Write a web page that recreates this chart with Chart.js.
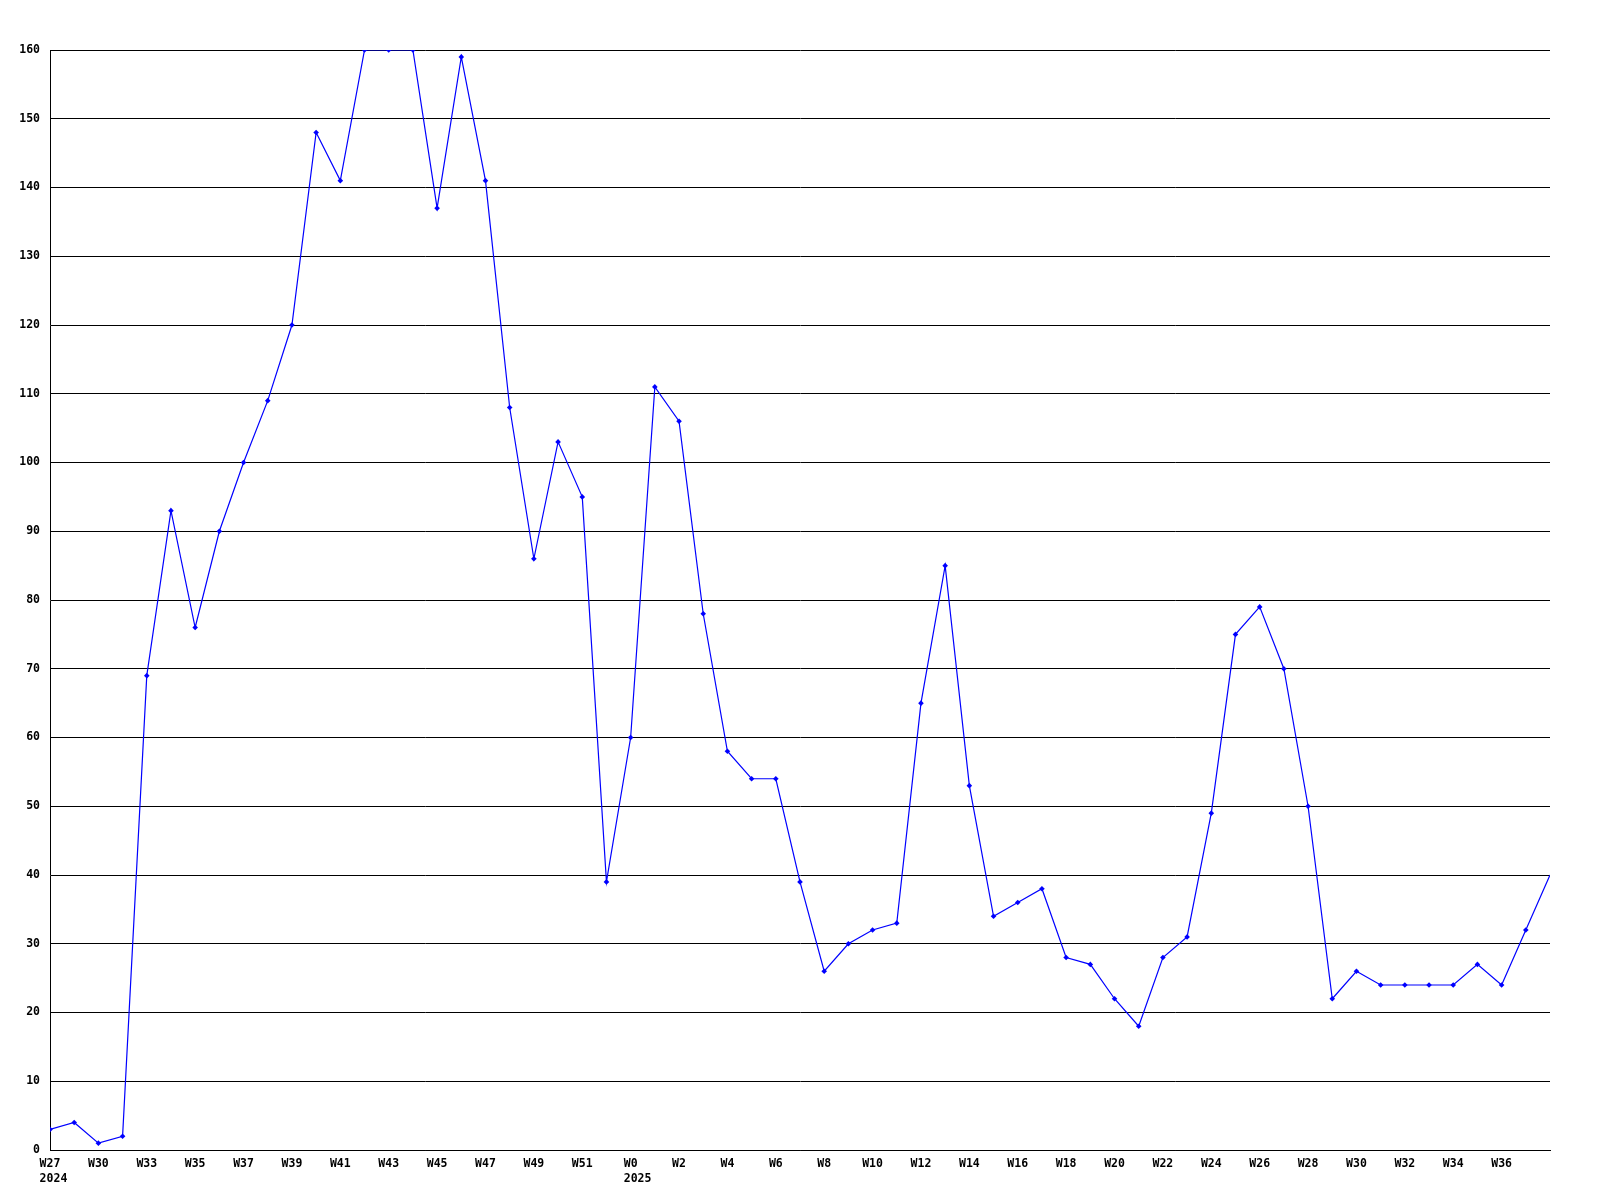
<!DOCTYPE html>
<html>
<head>
<meta charset="utf-8">
<script src="https://cdn.jsdelivr.net/npm/chart.js@4/dist/chart.umd.min.js"></script>
<style>
  html, body { margin: 0; padding: 0; background: #ffffff; }
  #wrap { width: 1600px; height: 1200px; }
</style>
</head>
<body>
<div id="wrap"><canvas id="weekly"></canvas></div>
<script>
// week labels (every other point labelled); year lines padded so they line up with the week text
const weekLabels = [
  ['W27', '  2024 '], '', 'W30', '', 'W33', '', 'W35', '', 'W37', '', 'W39', '', 'W41', '', 'W43', '',
  'W45', '', 'W47', '', 'W49', '', 'W51', '', ['W0', '  2025'], '', 'W2', '', 'W4', '', 'W6', '',
  'W8', '', 'W10', '', 'W12', '', 'W14', '', 'W16', '', 'W18', '', 'W20', '', 'W22', '',
  'W24', '', 'W26', '', 'W28', '', 'W30', '', 'W32', '', 'W34', '', 'W36', '', ''
];

const counts = [
  3, 4, 1, 2, 69, 93, 76, 90, 100, 109, 120, 148, 141, 160, 160, 160,
  137, 159, 141, 108, 86, 103, 95, 39, 60, 111, 106, 78, 58, 54, 54, 39,
  26, 30, 32, 33, 65, 85, 53, 34, 36, 38, 28, 27, 22, 18, 28, 31,
  49, 75, 79, 70, 50, 22, 26, 24, 24, 24, 24, 27, 24, 32, 40
];

const yMin = 0, yMax = 160, yStep = 10;

const tickFont = { family: 'DejaVu Sans Mono', size: 11.5, weight: 'bold', lineHeight: 1.3 };

const ctx = document.getElementById('weekly').getContext('2d');
new Chart(ctx, {
    type: 'line',
    data: {
        labels: weekLabels,
        datasets: [{
            data: counts,
            borderColor: '#0000ff',
            backgroundColor: '#0000ff',
            borderWidth: 1.2,
            pointStyle: 'rectRot',
            pointRadius: counts.map((v, i) => i === counts.length - 1 ? 0 : 2.8),
            pointBorderWidth: 0,
            tension: 0,
            clip: 0
        }]
    },
    options: {
        responsive: true,
        maintainAspectRatio: false,
        animation: false,
        layout: { padding: { top: 50, right: 50, left: 0, bottom: 0 } },
        plugins: {
            legend: { display: false },
            tooltip: { enabled: false }
        },
        scales: {
            x: {
                offset: false,
                grid: { display: false, drawTicks: false },
                border: { display: true, color: '#000000', width: 1 },
                ticks: {
                    color: '#000000',
                    font: tickFont,
                    autoSkip: false,
                    maxRotation: 0,
                    minRotation: 0,
                    padding: 7
                },
                afterFit: scale => { scale.height = 50; }
            },
            y: {
                min: yMin,
                max: yMax,
                grid: { color: '#000000', lineWidth: 1, drawTicks: false },
                border: { display: true, color: '#000000', width: 1 },
                ticks: {
                    stepSize: yStep,
                    color: '#000000',
                    font: tickFont,
                    padding: 10
                },
                afterFit: scale => { scale.width = 50; }
            }
        }
    }
});
</script>
</body>
</html>
